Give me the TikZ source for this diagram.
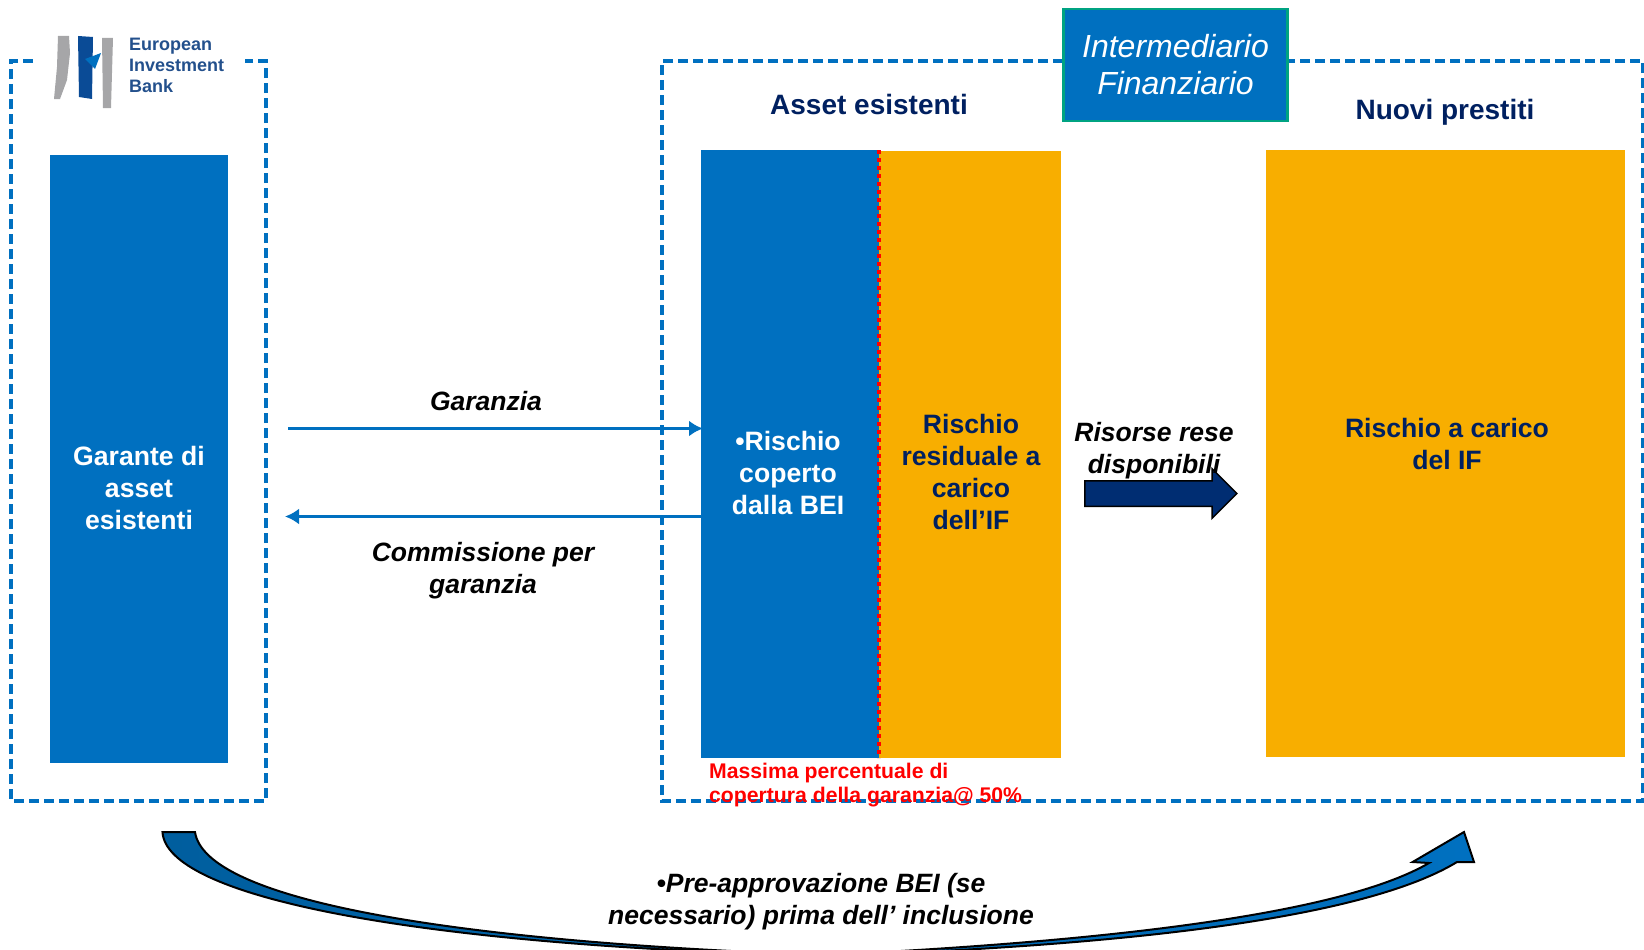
\documentclass[tikz,border=0pt]{standalone}
\usepackage{fontspec}
\setmainfont{Liberation Sans}
\usetikzlibrary{arrows,shapes}
\usetikzlibrary{arrows.meta}
\definecolor{BeiBlue}{RGB}{0,112,192}
\definecolor{DarkBlue}{RGB}{0,94,158}
\definecolor{Navy}{RGB}{0,32,96}
\definecolor{ArrowNavy}{RGB}{0,45,114}
\definecolor{Amber}{RGB}{248,174,0}
\definecolor{TealEdge}{RGB}{0,163,130}
\definecolor{LogoGray}{RGB}{166,166,168}
\definecolor{LogoBlue}{RGB}{10,75,150}
\definecolor{LogoText}{RGB}{35,80,140}
\tikzset{
  block/.style={inner sep=0pt, outer sep=0pt, anchor=north west},
  frame/.style={draw=BeiBlue, line width=4pt, dash pattern=on 10pt off 5pt},
  link/.style={draw=BeiBlue, line width=3.5pt, -{Latex[length=14pt,width=16pt]}},
  boxtext/.style={font=\fontsize{26.6}{32}\selectfont\bfseries, align=center, inner sep=0pt},
  flowtext/.style={font=\fontsize{26.5}{32}\selectfont\bfseries\itshape, align=center, text=black, inner sep=0pt},
  headtext/.style={font=\fontsize{28}{32}\selectfont\bfseries, text=Navy, inner sep=0pt},
}
\begin{document}
\begin{tikzpicture}[x=1pt,y=-1pt]
\clip (0,0) rectangle (1644,950);

\draw[frame] (33,61) -- (11,61) -- (11,801) -- (266,801) -- (266,61) -- (245,61);
\draw[frame] (1063,61) -- (662,61) -- (662,801) -- (1643,801) -- (1643,61) -- (1288,61);

% logo
\fill[LogoGray] (58,36) -- (69,36) -- (70,53) -- (67,80) -- (60,99) -- (54,99) -- (57,67) -- cycle;
\fill[LogoBlue] (78,36) -- (93,37) -- (92,99) -- (79,97) -- cycle;
\fill[LogoGray] (102,38) -- (113,38) -- (111,108) -- (103,108) -- cycle;
\fill[BeiBlue] (85,59) -- (101,53) -- (95,69) -- cycle;
\node[anchor=north west, inner sep=0pt, text=LogoText, align=left, font=\fontsize{18}{21}\selectfont\bfseries] (logotext) at (129,37.5) {European\\Investment\\Bank};

\node[block, fill=BeiBlue, minimum width=178.5pt, minimum height=608pt] (garante) at (49.5,155) {};
\node[block, fill=BeiBlue, minimum width=178pt, minimum height=608pt] (coperto) at (701,150) {};
\node[block, fill=Amber, minimum width=182pt, minimum height=607pt] (residuo) at (879,151) {};
\node[block, fill=Amber, minimum width=359pt, minimum height=607pt] (nuovi) at (1266,150) {};
\draw[red, line width=3.5pt, dash pattern=on 4pt off 4pt] (coperto.north east) -- (coperto.south east);

\node[draw=TealEdge, line width=2.5pt, fill=BeiBlue, text=white, align=center, inner sep=0pt, minimum width=224pt, minimum height=112pt, font=\fontsize{32}{37}\selectfont\itshape] (interm) at (1175.5,65) {Intermediario\\Finanziario};

\node[boxtext, text=white] (garantetext) at (139,488) {Garante di\\asset\\esistenti};
\node[boxtext, text=white] (copertotext) at (788,473) {•Rischio\\coperto\\dalla BEI};
\node[boxtext, text=Navy] (residuotext) at (971,472) {Rischio\\residuale a\\carico\\dell’IF};
\node[boxtext, text=Navy] (nuovitext) at (1447,444) {Rischio a carico\\del IF};
\node[headtext] (assethead) at (869,104) {Asset esistenti};
\node[headtext] (nuovihead) at (1445,112) {Nuovi prestiti};

\coordinate (garStart) at (288,428.5);
\coordinate (comEnd) at (285,516.5);
\draw[link, shorten >=-2pt] (garStart) -- (garStart -| coperto.west);
\draw[link] (comEnd -| coperto.west) -- (comEnd);
\node[flowtext] (garanzia) at (486,401) {Garanzia};
\node[flowtext] (commissione) at (483,571) {Commissione per\\garanzia};

\node[single arrow, draw=black, line width=1.5pt, fill=ArrowNavy, inner xsep=0pt, inner ysep=12pt, minimum height=152pt, single arrow head extend=12pt, single arrow head indent=0pt] (risorse) at (1154.5,493.5) {};
\node[flowtext] (risorsetext) at (1154,451) {Risorse rese\\disponibili};

\node[anchor=north west, inner sep=0pt, text=red, align=left, font=\fontsize{21.2}{24}\selectfont\bfseries] (massima) at (709,762.5) {Massima percentuale di\\copertura della garanzia@ 50\%};

% big curved arrow at the bottom
\draw[draw=black, line width=2pt, left color=DarkBlue, right color=BeiBlue]
  (162.5,832) .. controls (166,895) and (400,945) .. (825,956)
  .. controls (1150,945) and (1370,915) .. (1457,862)
  -- (1474,862) -- (1464,832) -- (1412.6,862) -- (1429,863)
  .. controls (1340,915) and (1100,942) .. (825,955)
  .. controls (450,942) and (205,900) .. (195,832) -- cycle;
\node[flowtext] (preappr) at (821,902) {•Pre-approvazione BEI (se\\necessario) prima dell’ inclusione};
\end{tikzpicture}
\end{document}
